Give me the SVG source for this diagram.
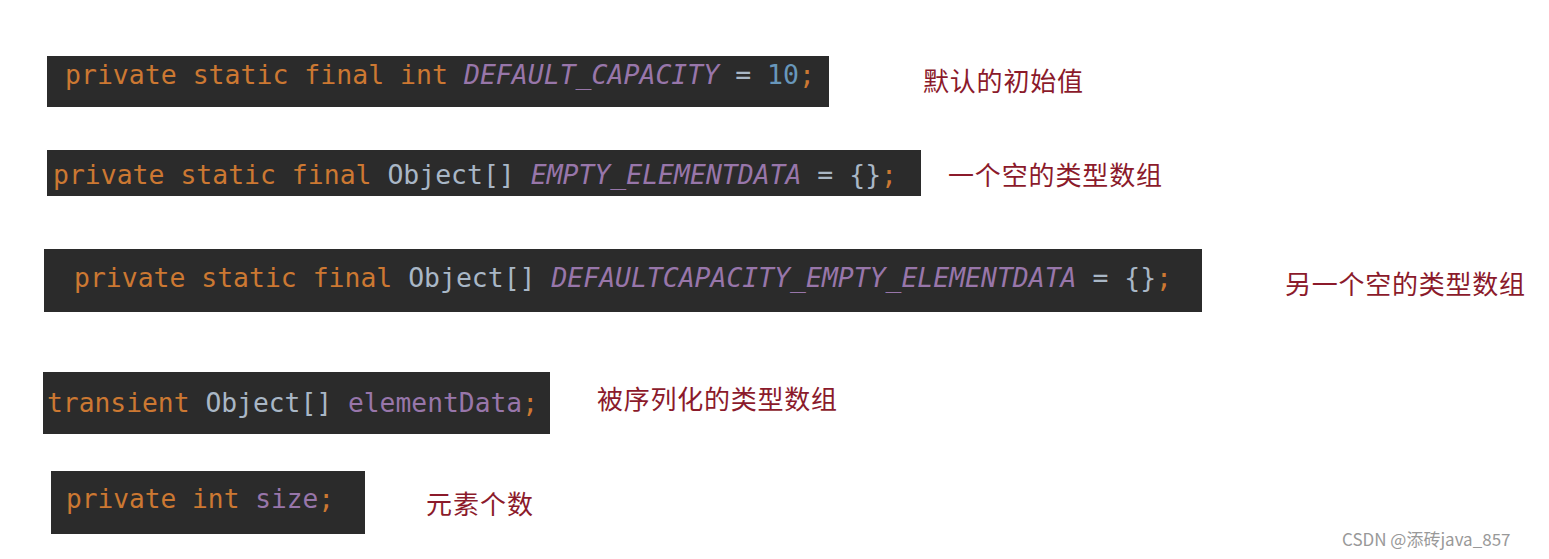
<svg xmlns="http://www.w3.org/2000/svg" width="1549" height="559" viewBox="0 0 1549 559">
<style>
.bg{fill:#2b2b2b}
.code{font-family:"DejaVu Sans Mono",monospace;font-size:26px;fill:#a9b7c6}
.k{fill:#cc7832}.c{fill:#9876aa;font-style:italic}.v{fill:#9876aa}.n{fill:#6897bb}
.lbl{font-family:"Noto Sans CJK SC",sans-serif;font-size:26px;fill:#8b1a2b}
.wm{font-family:"Noto Sans CJK SC",sans-serif;font-size:17px;fill:#999}
</style>
<rect width="1549" height="559" fill="#fff"/>
<g id="n1"><rect class="bg" x="47" y="56" width="782" height="51"/>
<text class="code" x="65" y="84" textLength="750" lengthAdjust="spacingAndGlyphs"><tspan class="k">private static final int </tspan><tspan class="c">DEFAULT_CAPACITY</tspan> = <tspan class="n">10</tspan><tspan class="k">;</tspan></text></g>
<g id="n2"><rect class="bg" x="47" y="150" width="874" height="46"/>
<text class="code" x="53" y="184" textLength="844" lengthAdjust="spacingAndGlyphs"><tspan class="k">private static final </tspan>Object[] <tspan class="c">EMPTY_ELEMENTDATA</tspan> = {}<tspan class="k">;</tspan></text></g>
<g id="n3"><rect class="bg" x="44" y="249" width="1158" height="63"/>
<text class="code" x="74" y="287" textLength="1098" lengthAdjust="spacingAndGlyphs"><tspan class="k">private static final </tspan>Object[] <tspan class="c">DEFAULTCAPACITY_EMPTY_ELEMENTDATA</tspan> = {}<tspan class="k">;</tspan></text></g>
<g id="n4"><rect class="bg" x="43" y="372" width="507" height="62"/>
<text class="code" x="47" y="412" textLength="491" lengthAdjust="spacingAndGlyphs"><tspan class="k">transient </tspan>Object[] <tspan class="v">elementData</tspan><tspan class="k">;</tspan></text></g>
<g id="n5"><rect class="bg" x="51" y="471" width="314" height="63"/>
<text class="code" x="66" y="508" textLength="268" lengthAdjust="spacingAndGlyphs"><tspan class="k">private int </tspan><tspan class="v">size</tspan><tspan class="k">;</tspan></text></g>
<g id="labels">
<text class="lbl" x="923" y="91" textLength="160">默认的初始值</text>
<text class="lbl" x="948" y="185" textLength="214">一个空的类型数组</text>
<text class="lbl" x="1285" y="294" textLength="240">另一个空的类型数组</text>
<text class="lbl" x="597" y="409" textLength="240">被序列化的类型数组</text>
<text class="lbl" x="426" y="514" textLength="107">元素个数</text>
<text class="wm" x="1342" y="546">CSDN @添砖java_857</text>
</g>
<g id="connectors"/>
</svg>
